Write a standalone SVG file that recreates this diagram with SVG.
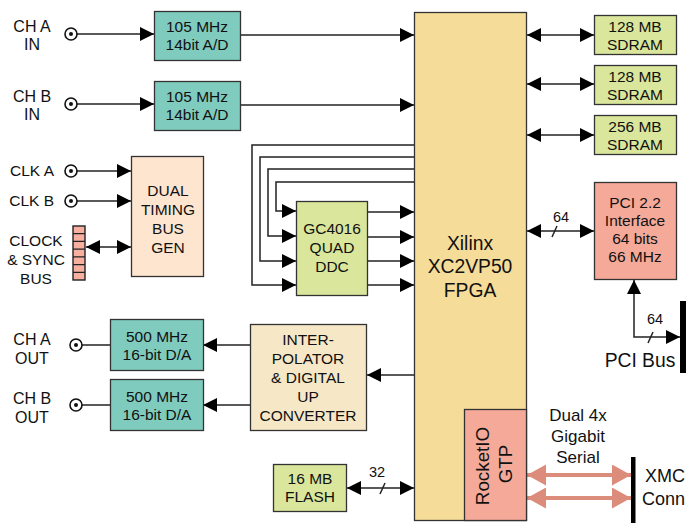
<svg xmlns="http://www.w3.org/2000/svg" width="688" height="525" viewBox="0 0 688 525">
<defs>
<style>
text{font-family:"Liberation Sans",Arial,sans-serif;font-size:15.5px;fill:#111;text-anchor:middle}
.box{stroke:#333;stroke-width:1.3}
.teal{fill:#7fcbbe}
.green{fill:#d9e69c}
.fpga{fill:#f5dc98}
.peach{fill:#fde5cf}
.cream{fill:#f6e7c6}
.salmon{fill:#f5a998}
.ln{stroke:#222;stroke-width:1.5;fill:none}
.big{font-size:19.3px}
.rio{font-size:18.8px}
.sm{font-size:14.5px}
.ch{font-size:16px}
.ser{font-size:17px}
</style>
<marker id="ah" markerUnits="userSpaceOnUse" markerWidth="14" markerHeight="14" refX="14" refY="7" orient="auto-start-reverse">
<path d="M0,0 L14,7 L0,14 z" fill="#000"/>
</marker>
<marker id="sah" markerUnits="userSpaceOnUse" markerWidth="19" markerHeight="21" refX="19" refY="10.5" orient="auto-start-reverse">
<path d="M0,0 L19,10.5 L0,21 z" fill="#dc8c7b"/>
</marker>
</defs>
<rect width="688" height="525" fill="#fff"/>

<g id="connectors">
<line class="ln" x1="77" y1="34" x2="154" y2="34" marker-end="url(#ah)"/>
<line class="ln" x1="77" y1="104" x2="154" y2="104" marker-end="url(#ah)"/>
<line class="ln" x1="241" y1="35" x2="414" y2="35" marker-end="url(#ah)"/>
<line class="ln" x1="241" y1="105" x2="414" y2="105" marker-end="url(#ah)"/>
<line class="ln" x1="527" y1="35" x2="594" y2="35" marker-start="url(#ah)" marker-end="url(#ah)"/>
<line class="ln" x1="527" y1="84" x2="594" y2="84" marker-start="url(#ah)" marker-end="url(#ah)"/>
<line class="ln" x1="527" y1="135" x2="594" y2="135" marker-start="url(#ah)" marker-end="url(#ah)"/>
<line class="ln" x1="77" y1="171" x2="131" y2="171" marker-end="url(#ah)"/>
<line class="ln" x1="77" y1="201" x2="131" y2="201" marker-end="url(#ah)"/>
<line class="ln" x1="86" y1="247" x2="131" y2="247" marker-start="url(#ah)" marker-end="url(#ah)"/>
<polyline class="ln" points="414,145 252,145 252,285 296,285" marker-end="url(#ah)"/>
<polyline class="ln" points="414,157 260,157 260,261 296,261" marker-end="url(#ah)"/>
<polyline class="ln" points="414,169 268,169 268,236 296,236" marker-end="url(#ah)"/>
<polyline class="ln" points="414,182 276,182 276,211 296,211" marker-end="url(#ah)"/>
<line class="ln" x1="367" y1="212" x2="414" y2="212" marker-end="url(#ah)"/>
<line class="ln" x1="367" y1="237" x2="414" y2="237" marker-end="url(#ah)"/>
<line class="ln" x1="367" y1="261" x2="414" y2="261" marker-end="url(#ah)"/>
<line class="ln" x1="367" y1="285" x2="414" y2="285" marker-end="url(#ah)"/>
<line class="ln" x1="527" y1="231" x2="594" y2="231" marker-start="url(#ah)" marker-end="url(#ah)"/>
<line class="ln" x1="552" y1="237" x2="557" y2="226"/>
<polyline class="ln" points="680,337 634,337 634,280" marker-start="url(#ah)" marker-end="url(#ah)"/>
<line class="ln" x1="648" y1="343" x2="653" y2="332"/>
<rect x="680" y="301" width="6" height="72" fill="#000"/>
<line class="ln" x1="414" y1="375" x2="367" y2="375" marker-end="url(#ah)"/>
<line class="ln" x1="250" y1="345" x2="203" y2="345" marker-end="url(#ah)"/>
<line class="ln" x1="250" y1="405" x2="203" y2="405" marker-end="url(#ah)"/>
<line class="ln" x1="82" y1="345" x2="110" y2="345"/>
<line class="ln" x1="82" y1="405" x2="110" y2="405"/>
<line class="ln" x1="347" y1="488" x2="414" y2="488" marker-start="url(#ah)" marker-end="url(#ah)"/>
<line class="ln" x1="380" y1="494" x2="385" y2="483"/>
<line x1="527" y1="475" x2="631" y2="475" stroke="#dc8c7b" stroke-width="4" marker-start="url(#sah)" marker-end="url(#sah)"/>
<line x1="527" y1="498" x2="631" y2="498" stroke="#dc8c7b" stroke-width="4" marker-start="url(#sah)" marker-end="url(#sah)"/>
<rect x="631" y="457" width="4.5" height="66" fill="#000"/>
</g>

<g id="ch-a-in">
<circle cx="71" cy="34" r="6" fill="#fff" stroke="#111" stroke-width="1.6"/>
<circle cx="71" cy="34" r="2" fill="#111"/>
<text class="ch" x="32" y="32">CH A</text><text class="ch" x="32" y="50">IN</text>
</g>
<g id="ch-b-in">
<circle cx="71" cy="104" r="6" fill="#fff" stroke="#111" stroke-width="1.6"/>
<circle cx="71" cy="104" r="2" fill="#111"/>
<text class="ch" x="32" y="102">CH B</text><text class="ch" x="32" y="120">IN</text>
</g>
<g id="adc-a">
<rect class="box teal" x="154.5" y="11.5" width="86" height="49"/>
<text x="197" y="32">105 MHz</text><text x="197" y="50">14bit A/D</text>
</g>
<g id="adc-b">
<rect class="box teal" x="154.5" y="81.5" width="86" height="49"/>
<text x="197" y="102">105 MHz</text><text x="197" y="120">14bit A/D</text>
</g>

<g id="clk-a">
<text x="54" y="176" style="text-anchor:end">CLK A</text>
<circle cx="71" cy="171" r="6" fill="#fff" stroke="#111" stroke-width="1.6"/>
<circle cx="71" cy="171" r="2" fill="#111"/>
</g>
<g id="clk-b">
<text x="54" y="206" style="text-anchor:end">CLK B</text>
<circle cx="71" cy="201" r="6" fill="#fff" stroke="#111" stroke-width="1.6"/>
<circle cx="71" cy="201" r="2" fill="#111"/>
</g>
<g id="clock-sync-bus">
<text x="36" y="246">CLOCK</text><text x="36" y="265">&amp; SYNC</text><text x="36" y="284">BUS</text>
<rect x="73" y="226" width="12" height="54" fill="#f7b0a0" stroke="#222" stroke-width="1.4"/>
<path d="M73,233.7H85M73,241.4H85M73,249.1H85M73,256.9H85M73,264.6H85M73,272.3H85" stroke="#222" stroke-width="1.2"/>
</g>
<g id="timing-gen">
<rect class="box peach" x="131.5" y="156.5" width="72" height="120"/>
<text x="168" y="196">DUAL</text><text x="168" y="215">TIMING</text><text x="168" y="234">BUS</text><text x="168" y="253">GEN</text>
</g>

<g id="ddc">
<rect class="box green" x="296.5" y="201.5" width="71" height="94"/>
<text x="332" y="234">GC4016</text><text x="332" y="253">QUAD</text><text x="332" y="272">DDC</text>
</g>

<g id="fpga">
<rect class="box fpga" x="414.5" y="12.5" width="112" height="508"/>
<text class="big" x="470" y="250">Xilinx</text><text class="big" x="470" y="273">XC2VP50</text><text class="big" x="470" y="297">FPGA</text>
</g>
<g id="rocketio">
<rect class="box salmon" x="464.5" y="409.5" width="62" height="111"/>
<text class="rio" transform="translate(489,466) rotate(-90)">RocketIO</text>
<text class="rio" transform="translate(512,464) rotate(-90)">GTP</text>
</g>

<g id="sdram-1">
<rect class="box green" x="594.5" y="15.5" width="82" height="39"/>
<text x="635" y="32">128 MB</text><text x="635" y="50">SDRAM</text>
</g>
<g id="sdram-2">
<rect class="box green" x="594.5" y="65.5" width="82" height="39"/>
<text x="635" y="82">128 MB</text><text x="635" y="100">SDRAM</text>
</g>
<g id="sdram-3">
<rect class="box green" x="594.5" y="115.5" width="82" height="39"/>
<text x="635" y="132">256 MB</text><text x="635" y="150">SDRAM</text>
</g>

<g id="pci-if">
<rect class="box salmon" x="594.5" y="182.5" width="82" height="97"/>
<text x="635" y="208">PCI 2.2</text><text x="635" y="226">Interface</text><text x="635" y="244">64 bits</text><text x="635" y="262">66 MHz</text>
</g>
<g id="labels">
<text class="sm" x="561" y="222">64</text>
<text class="sm" x="655" y="324">64</text>
<text class="big" x="640" y="367">PCI Bus</text>
<text class="sm" x="377" y="477">32</text>
<text class="ser" x="578" y="421">Dual 4x</text><text class="ser" x="578" y="442">Gigabit</text><text class="ser" x="578" y="463">Serial</text>
<text x="645" y="482" style="text-anchor:start;font-size:18px">XMC</text>
<text x="642" y="505" style="text-anchor:start;font-size:18px">Conn</text>
</g>

<g id="ch-a-out">
<text class="ch" x="32" y="345">CH A</text><text class="ch" x="32" y="364">OUT</text>
<circle cx="76" cy="345" r="6" fill="#fff" stroke="#111" stroke-width="1.6"/>
<circle cx="76" cy="345" r="2" fill="#111"/>
</g>
<g id="ch-b-out">
<text class="ch" x="32" y="404">CH B</text><text class="ch" x="32" y="423">OUT</text>
<circle cx="76" cy="405" r="6" fill="#fff" stroke="#111" stroke-width="1.6"/>
<circle cx="76" cy="405" r="2" fill="#111"/>
</g>
<g id="dac-a">
<rect class="box teal" x="110.5" y="319.5" width="93" height="51"/>
<text x="157" y="342">500 MHz</text><text x="157" y="360">16-bit D/A</text>
</g>
<g id="dac-b">
<rect class="box teal" x="110.5" y="379.5" width="93" height="51"/>
<text x="157" y="402">500 MHz</text><text x="157" y="420">16-bit D/A</text>
</g>
<g id="interpolator">
<rect class="box cream" x="250.5" y="324.5" width="116" height="106"/>
<text x="308" y="345">INTER-</text><text x="308" y="364">POLATOR</text><text x="308" y="383">&amp; DIGITAL</text><text x="308" y="402">UP</text><text x="308" y="421">CONVERTER</text>
</g>
<g id="flash">
<rect class="box green" x="273.5" y="464.5" width="73" height="47"/>
<text x="310" y="484">16 MB</text><text x="310" y="502">FLASH</text>
</g>
</svg>
